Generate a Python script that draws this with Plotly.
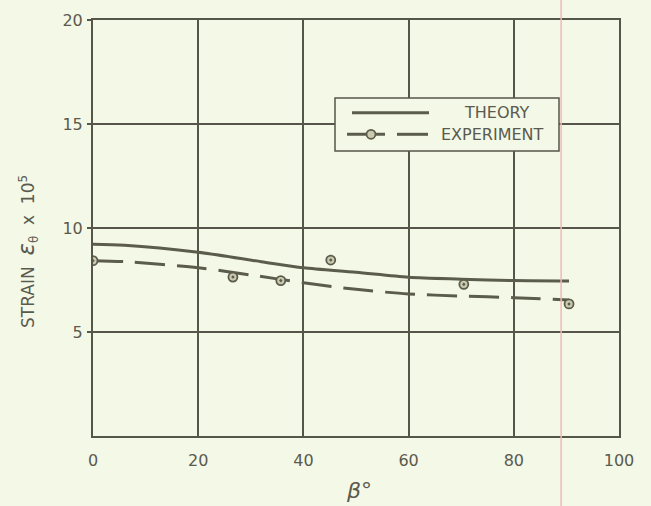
import plotly.graph_objects as go

# ---- data ----
theory_x = [0, 6, 20, 32, 40, 50, 60, 70, 80, 90.5]
theory_y = [9.22, 9.17, 8.83, 8.38, 8.09, 7.87, 7.63, 7.54, 7.47, 7.45]

exp_curve_x = [0, 6, 20, 30, 40, 50, 60, 70, 80, 90.5]
exp_curve_y = [8.43, 8.38, 8.09, 7.74, 7.37, 7.05, 6.83, 6.73, 6.65, 6.54]

exp_pts_x = [0, 26.6, 35.7, 45.2, 70.5, 90.5]
exp_pts_y = [8.43, 7.64, 7.47, 8.46, 7.29, 6.35]

x_ticks = [0, 20, 40, 60, 80, 100]
y_ticks = [5, 10, 15, 20]

BG = "#f4f8e6"
INK = "#5c5c4c"
GRID = "#55554a"
TXT = "#5a5a4e"
FONT = "DejaVu Sans"

fig = go.Figure()
fig.add_trace(go.Scatter(x=theory_x, y=theory_y, mode="lines", name="THEORY",
                         line=dict(color=INK, width=3, shape="spline", smoothing=0.8)))
fig.add_trace(go.Scatter(x=exp_curve_x, y=exp_curve_y, mode="lines", name="EXPERIMENT",
                         line=dict(color=INK, width=3, dash="30px,12px",
                                   shape="spline", smoothing=0.8)))
fig.add_trace(go.Scatter(x=exp_pts_x, y=exp_pts_y, mode="markers", name="EXPERIMENT points",
                         marker=dict(symbol="circle-dot", size=9, color="#c9caae",
                                     line=dict(color=INK, width=1.8))))

W, H = 651, 506
L, R, T, B = 93, 32, 20, 70
pw, ph = W - L - R, H - T - B


def px(xp):
    return (xp - L) / pw


def py(yp):
    return (H - B - yp) / ph


shapes = [
    # paper margin line of the scan
    dict(type="line", xref="x", yref="paper", x0=89, x1=89, y0=-0.2, y1=1.06,
         line=dict(color="#f2b9b6", width=1.5), layer="above"),
    # legend box
    dict(type="rect", xref="paper", yref="paper", x0=px(335), x1=px(559),
         y0=py(151), y1=py(98), fillcolor=BG, line=dict(color=GRID, width=1.5),
         layer="above"),
    dict(type="line", xref="paper", yref="paper", x0=px(352), x1=px(429),
         y0=py(112.7), y1=py(112.7), line=dict(color=INK, width=3), layer="above"),
    dict(type="line", xref="paper", yref="paper", x0=px(347), x1=px(385),
         y0=py(134.3), y1=py(134.3), line=dict(color=INK, width=3), layer="above"),
    dict(type="line", xref="paper", yref="paper", x0=px(397), x1=px(428),
         y0=py(134.3), y1=py(134.3), line=dict(color=INK, width=3), layer="above"),
    dict(type="circle", xref="paper", yref="paper", x0=px(366.5), x1=px(375.5),
         y0=py(138.8), y1=py(129.8), fillcolor="#c9caae",
         line=dict(color=INK, width=1.8), layer="above"),
]

annotations = [
    dict(text="THEORY", xref="paper", yref="paper", x=px(497), y=py(112.5),
         showarrow=False, font=dict(family=FONT, size=16, color=TXT),
         xanchor="center", yanchor="middle"),
    dict(text="EXPERIMENT", xref="paper", yref="paper", x=px(492), y=py(134.5),
         showarrow=False, font=dict(family=FONT, size=16, color=TXT),
         xanchor="center", yanchor="middle"),
    dict(text="STRAIN  <span style='font-size:23px'><i>ε</i></span><sub>θ</sub>  x  10<sup>5</sup>",
         xref="paper", yref="paper",
         x=px(27), y=py(252), textangle=-90, showarrow=False,
         font=dict(family=FONT, size=17, color=TXT), xanchor="center", yanchor="middle"),
    dict(text="<i>β</i>°", xref="paper", yref="paper", x=px(359), y=py(490),
         showarrow=False, font=dict(family=FONT, size=22, color=TXT),
         xanchor="center", yanchor="middle"),
]

fig.update_layout(
    width=W, height=H,
    margin=dict(l=L, r=R, t=T, b=B, pad=0),
    paper_bgcolor=BG, plot_bgcolor=BG,
    showlegend=False,
    shapes=shapes,
    annotations=annotations,
    xaxis=dict(range=[0, 100], tickvals=x_ticks, ticktext=[str(v) for v in x_ticks],
               showgrid=True, gridcolor=GRID, gridwidth=1.6,
               showline=True, linecolor=GRID, linewidth=2, mirror=True,
               ticks="", ticklabelstandoff=9, zeroline=False,
               tickfont=dict(family=FONT, size=16, color=TXT)),
    yaxis=dict(range=[0, 20], tickvals=y_ticks, ticktext=[str(v) for v in y_ticks],
               showgrid=True, gridcolor=GRID, gridwidth=1.6,
               showline=True, linecolor=GRID, linewidth=2, mirror=True,
               ticks="outside", ticklen=4, tickcolor=GRID, tickwidth=1.5,
               ticklabelstandoff=1, zeroline=False,
               tickfont=dict(family=FONT, size=16, color=TXT)),
)

fig.write_html("out.html")
